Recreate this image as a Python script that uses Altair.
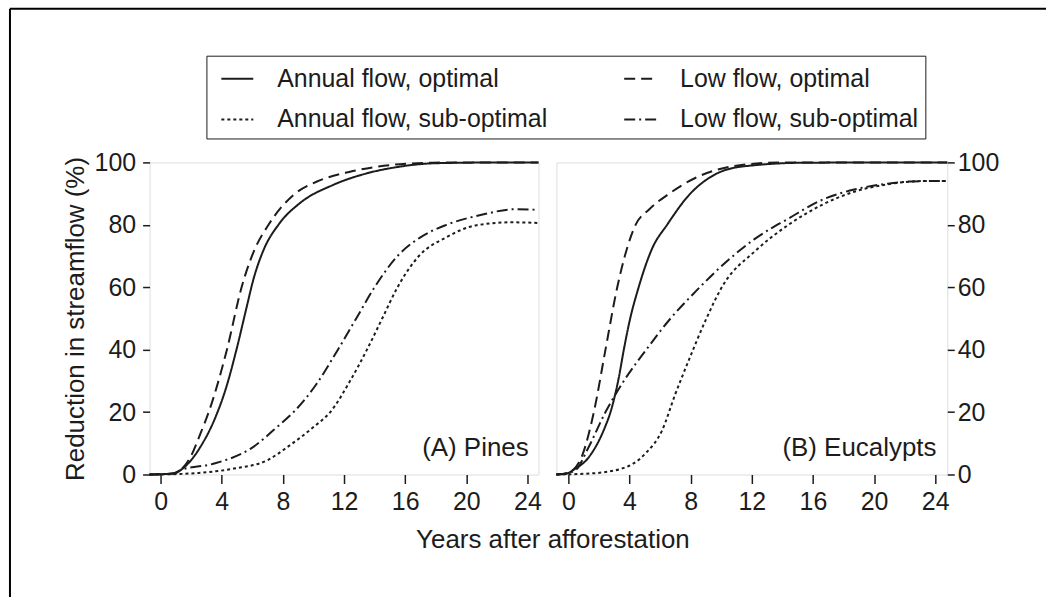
import altair as alt
import pandas as pd

FONT = "Liberation Sans"
INK = "#1c1c1c"

# legend order (column-major fill: col 1 = annual, col 2 = low flow)
SERIES = ["Annual flow, optimal", "Annual flow, sub-optimal",
          "Low flow, optimal", "Low flow, sub-optimal"]
DASHES = [[1, 0], [3, 3], [11, 6], [11, 4, 2, 4]]
X_TICKS = [0, 4, 8, 12, 16, 20, 24]
Y_TICKS = [0, 20, 40, 60, 80, 100]
PANEL_LABELS = ["(A) Pines", "(B) Eucalypts"]
X_TITLE = "Years after afforestation"
Y_TITLE = "Reduction in streamflow (%)"

# ---- Panel A: Pines ----
a_ann_opt_x = [-0.72, 0.8, 1.7, 2.6, 3.5, 4.3, 5.0, 5.6, 6.1, 6.7, 7.8, 9.1, 11.3, 13.5, 15.6, 17.8, 20.0, 22.0, 24.72]
a_ann_opt_y = [0, 0.3, 3.0, 8.8, 17.3, 28.0, 40.7, 53.0, 63.0, 71.5, 80.6, 86.9, 92.8, 96.5, 98.6, 99.7, 99.9, 100, 100]
a_low_opt_x = [-0.72, 0.8, 1.3, 2.0, 2.6, 3.15, 4.34, 5.3, 6.1, 7.06, 8.7, 10.2, 12.4, 14.6, 17.8, 20.0, 24.72]
a_low_opt_y = [0, 0.3, 1.4, 6.0, 13.0, 20.0, 40.0, 60.0, 71.5, 80.0, 89.6, 93.8, 97.0, 98.9, 99.9, 100, 100]
a_ann_sub_x = [-0.72, 0.8, 2.5, 4.8, 7.0, 8.3, 10.0, 11.1, 12.4, 13.5, 14.5, 15.5, 16.9, 18.7, 20.6, 23.0, 24.72]
a_ann_sub_y = [0, 0.1, 0.5, 1.9, 4.6, 8.8, 15.2, 20.0, 30.0, 40.0, 50.0, 60.0, 70.0, 76.0, 79.8, 80.8, 80.6]
a_low_sub_x = [-0.72, 0.8, 1.3, 3.5, 5.9, 7.8, 8.7, 10.2, 11.6, 12.8, 14.0, 15.5, 17.0, 18.7, 21.0, 23.2, 24.72]
a_low_sub_y = [0, 0.3, 1.4, 3.5, 8.3, 16.0, 20.0, 29.0, 40.0, 50.0, 60.0, 70.0, 76.0, 80.0, 83.2, 85.0, 84.8]

# ---- Panel B: Eucalypts ----
b_ann_opt_x = [-0.78, 0.0, 0.3, 1.35, 2.4, 2.76, 3.3, 3.63, 4.0, 4.6, 5.5, 6.46, 7.98, 9.2, 10.3, 12.2, 15.5, 24.79]
b_ann_opt_y = [0, 0.5, 1.4, 5.6, 15.2, 20.0, 31.0, 40.0, 49.0, 60.0, 72.6, 80.0, 90.0, 95.0, 97.6, 99.1, 99.9, 100]
b_low_opt_x = [-0.78, 0.0, 0.3, 0.9, 1.67, 2.43, 3.2, 4.4, 5.3, 6.6, 8.3, 11.1, 14.0, 24.79]
b_low_opt_y = [0, 0.5, 1.4, 6.0, 20.0, 40.0, 60.0, 80.0, 85.0, 90.0, 95.0, 99.0, 100, 100]
b_ann_sub_x = [-0.78, 1.35, 3.5, 5.04, 6.13, 7.0, 7.87, 8.96, 10.1, 12.2, 14.4, 16.6, 18.7, 20.9, 23.1, 24.79]
b_ann_sub_y = [0, 0.3, 1.9, 6.7, 14.1, 25.8, 36.5, 49.2, 60.5, 71.5, 80.0, 86.4, 90.6, 93.0, 94.0, 94.0]
b_low_sub_x = [-0.78, 0.0, 0.48, 1.3, 2.43, 3.7, 5.1, 6.6, 8.3, 10.3, 12.2, 14.4, 16.6, 18.7, 20.9, 23.1, 24.79]
b_low_sub_y = [0, 0.5, 1.4, 8.5, 20.0, 30.5, 40.0, 49.5, 58.5, 68.0, 75.5, 82.0, 88.0, 91.3, 93.2, 94.0, 94.0]


def frame(series_xy):
    rows = []
    for name, xs, ys in series_xy:
        for xv, yv in zip(xs, ys):
            rows.append({"series": name, "x": xv, "y": yv})
    return pd.DataFrame(rows)


df_a = frame([("Annual flow, optimal", a_ann_opt_x, a_ann_opt_y),
              ("Low flow, optimal", a_low_opt_x, a_low_opt_y),
              ("Annual flow, sub-optimal", a_ann_sub_x, a_ann_sub_y),
              ("Low flow, sub-optimal", a_low_sub_x, a_low_sub_y)])
df_b = frame([("Annual flow, optimal", b_ann_opt_x, b_ann_opt_y),
              ("Low flow, optimal", b_low_opt_x, b_low_opt_y),
              ("Annual flow, sub-optimal", b_ann_sub_x, b_ann_sub_y),
              ("Low flow, sub-optimal", b_low_sub_x, b_low_sub_y)])

legend = alt.Legend(
    title=None, orient="none", legendX=57, legendY=-107, columns=2,
    symbolType="stroke", symbolSize=1024, symbolStrokeWidth=2, symbolStrokeColor=INK,
    symbolOffset=8,
    labelFont=FONT, labelFontSize=25, labelColor=INK, labelOffset=23, labelLimit=0,
    columnPadding=68, rowPadding=11, padding=6,
    strokeColor=INK,
)
dash = alt.StrokeDash("series:N", scale=alt.Scale(domain=SERIES, range=DASHES), legend=legend)

axis_common = dict(labelFont=FONT, labelFontSize=25, labelColor=INK, tickColor=INK,
                   tickWidth=1.5, domain=False, grid=False, titleFont=FONT,
                   titleFontSize=26, titleColor=INK, titleFontWeight="normal")


def panel(df, xdom, width, label, left):
    if left:
        xaxis = alt.Axis(values=X_TICKS, tickSize=9, labelPadding=6, title=X_TITLE,
                         titleX=404, titleY=65, titleBaseline="middle", **axis_common)
        yaxis = alt.Axis(values=Y_TICKS, tickSize=7, labelPadding=7, title=Y_TITLE,
                         titlePadding=6, orient="left", **axis_common)
    else:
        xaxis = alt.Axis(values=X_TICKS, tickSize=9, labelPadding=6, title=None, **axis_common)
        yaxis = alt.Axis(values=Y_TICKS, tickSize=7, labelPadding=3, title=None,
                         orient="right", **axis_common)
    x = alt.X("x:Q", scale=alt.Scale(domain=xdom, nice=False, zero=False), axis=xaxis)
    y = alt.Y("y:Q", scale=alt.Scale(domain=[0, 100], nice=False), axis=yaxis)
    lines = alt.Chart(df).mark_line(strokeWidth=2, color=INK, interpolate="monotone").encode(
        x=x, y=y, strokeDash=dash, order=alt.Order("x:Q"))
    lab = alt.Chart(pd.DataFrame({"t": [label], "x": [24.08], "y": [5.9]})).mark_text(
        font=FONT, fontSize=26, color=INK, align="right", baseline="alphabetic").encode(
        x="x:Q", y="y:Q", text="t:N")
    layers = [lines, lab]
    if left:
        blank = pd.DataFrame({"k": [0]})
        top = alt.Chart(blank).mark_rule(color="black", strokeWidth=2).encode(
            x=alt.value(-140), x2=alt.value(899), y=alt.value(-154))
        side = alt.Chart(blank).mark_rule(color="black", strokeWidth=2).encode(
            x=alt.value(-140), y=alt.value(-154), y2=alt.value(436))
        layers += [top, side]
    return alt.layer(*layers).properties(width=width, height=313)


pa = panel(df_a, [-0.72, 24.72], 390, PANEL_LABELS[0], True)
pb = panel(df_b, [-0.78, 24.79], 392, PANEL_LABELS[1], False)

chart = alt.hconcat(pa, pb, spacing=18, bounds="flush").resolve_scale(
    x="independent", y="independent", strokeDash="shared"
).resolve_legend(strokeDash="shared").properties(
    padding={"left": 8, "top": 6, "right": 0, "bottom": 0}
).configure_view(stroke=INK, strokeWidth=2).configure(background="white")

chart.save("out.html", embed_options={"renderer": "svg", "actions": False})
